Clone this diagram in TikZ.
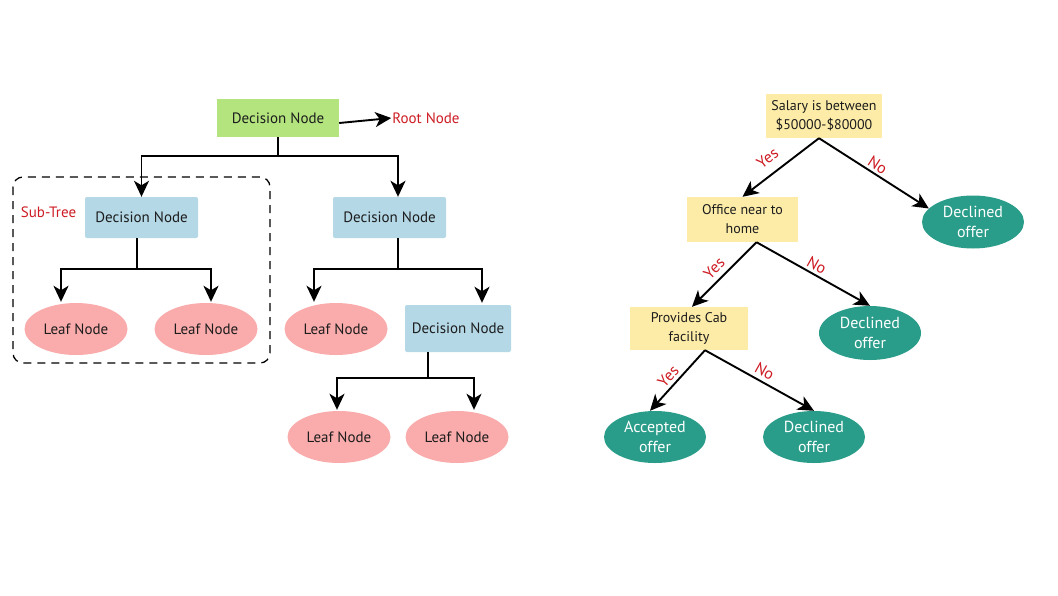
\documentclass[tikz,border=0pt]{standalone}
\usepackage{fontspec}
\setmainfont{PT Sans}
\usetikzlibrary{arrows.meta,shapes.geometric}
\definecolor{rootgreen}{RGB}{179,228,126}
\definecolor{decblue}{RGB}{180,216,230}
\definecolor{leafpink}{RGB}{250,172,172}
\definecolor{qyellow}{RGB}{252,236,168}
\definecolor{outteal}{RGB}{42,157,138}
\definecolor{lblred}{RGB}{206,28,36}
\definecolor{inktext}{RGB}{28,28,28}
\tikzset{
  arr/.style={line width=1.9pt,-{Stealth[length=16pt,width=15pt,inset=4.5pt]}},
  link/.style={line width=1.9pt},
  rootbox/.style={rectangle,fill=rootgreen,text=inktext,minimum width=122pt,minimum height=38pt,inner sep=0pt,font=\fontsize{15}{17}\selectfont},
  decbox/.style={rectangle,rounded corners=2pt,fill=decblue,text=inktext,minimum width=113pt,minimum height=41pt,inner sep=0pt,font=\fontsize{15}{17}\selectfont},
  leaf/.style={ellipse,fill=leafpink,text=inktext,minimum width=103pt,minimum height=52pt,inner sep=0pt,font=\fontsize{15}{17}\selectfont},
  qbox/.style={rectangle,fill=qyellow,text=inktext,align=center,inner sep=0pt,font=\fontsize{14}{19}\selectfont},
  outcome/.style={ellipse,fill=outteal,text=white,align=center,minimum width=102pt,minimum height=53pt,inner sep=0pt,font=\fontsize{16}{20}\selectfont},
  redlbl/.style={text=lblred,font=\fontsize{15}{17}\selectfont,inner sep=1pt},
  edgelbl/.style={redlbl,font=\fontsize{16}{18}\selectfont,sloped,above=#1},
}
\begin{document}
\begin{tikzpicture}[x=1pt,y=-1pt]
\useasboundingbox[fill=white] (0,0) rectangle (1058,595);

% ---- generic decision tree ----
\node[rootbox] (root) at (278,118) {Decision Node};
\node[redlbl] (rootlbl) at (426,118) {Root Node};
\draw[arr] ([yshift=-5pt]root.east) -- (rootlbl.west);

\node[decbox] (dl) at (141.5,217.5) {Decision Node};
\node[decbox] (dr) at (389.5,217.5) {Decision Node};
\node[leaf] (l1) at (76,329) {Leaf Node};
\node[leaf] (l2) at (206,329) {Leaf Node};
\node[leaf] (l3) at (336,329) {Leaf Node};
\node[decbox,minimum width=106pt,minimum height=47pt] (dm) at (458,328.5) {Decision Node};
\node[leaf] (l4) at (339,437) {Leaf Node};
\node[leaf] (l5) at (457,437) {Leaf Node};

% root split
\draw[link] (root.south) -- ++(0,19) coordinate (rj);
\draw[arr] (rj) -| (dl.north);
\draw[arr] (rj) -| ([xshift=8.5pt]dr.north);
% left sub-tree split
\draw[link] ([xshift=-4.5pt]dl.south) -- ++(0,31) coordinate (lj);
\draw[arr] (lj) -| ([xshift=-15pt,yshift=1pt]l1.north);
\draw[arr] (lj) -| ([xshift=5pt,yshift=1pt]l2.north);
% right split
\draw[link] ([xshift=8.5pt]dr.south) -- ++(0,31) coordinate (rj2);
\draw[arr] (rj2) -| ([xshift=-22pt,yshift=1pt]l3.north);
\draw[arr] (rj2) -| ([xshift=24pt,yshift=2pt]dm.north);
% lower split
\draw[link] ([xshift=-30pt]dm.south) -- ++(0,26) coordinate (mj);
\draw[arr] (mj) -| ([xshift=-2pt,yshift=1pt]l4.north);
\draw[arr] (mj) -| ([xshift=17pt,yshift=1pt]l5.north);

% sub-tree frame
\draw[line width=1.3pt,dash pattern=on 8pt off 6pt,rounded corners=10pt] (13,177) rectangle (270,363);
\node[redlbl] (sublbl) at (48.5,212) {Sub-Tree};

% ---- job offer example ----
\node[qbox,minimum width=116pt,minimum height=44pt] (sal) at (824,116) {Salary is between\\\$50000-\$80000};
\node[qbox,minimum width=111pt,minimum height=45pt] (off) at (742.5,219.5) {Office near to\\home};
\node[qbox,minimum width=118pt,minimum height=43pt] (cab) at (689,328.5) {Provides Cab\\facility};
\node[outcome] (d1) at (973,222) {Declined\\offer};
\node[outcome,minimum height=54pt] (d2) at (870,333) {Declined\\offer};
\node[outcome,minimum height=52pt] (acc) at (655,437) {Accepted\\offer};
\node[outcome,minimum height=52pt] (d3) at (814,437) {Declined\\offer};

\draw[arr] ([xshift=-5pt]sal.south) -- (off.north)
  node[edgelbl=8pt,pos=0.55] {Yes};
\draw[arr] ([xshift=-5pt]sal.south) -- (d1.163)
  node[edgelbl=1.5pt,pos=0.49] {No};
\draw[arr] ([xshift=14pt]off.south) -- ([xshift=3pt]cab.north)
  node[edgelbl=4pt,pos=0.53] {Yes};
\draw[arr] ([xshift=14pt]off.south) -- (d2.north)
  node[edgelbl=2pt,pos=0.49] {No};
\draw[arr] ([xshift=16pt]cab.south) -- ([xshift=-5pt]acc.north)
  node[edgelbl=2pt,pos=0.54] {Yes};
\draw[arr] ([xshift=16pt]cab.south) -- (d3.north)
  node[edgelbl=3pt,pos=0.5] {No};
\end{tikzpicture}
\end{document}
